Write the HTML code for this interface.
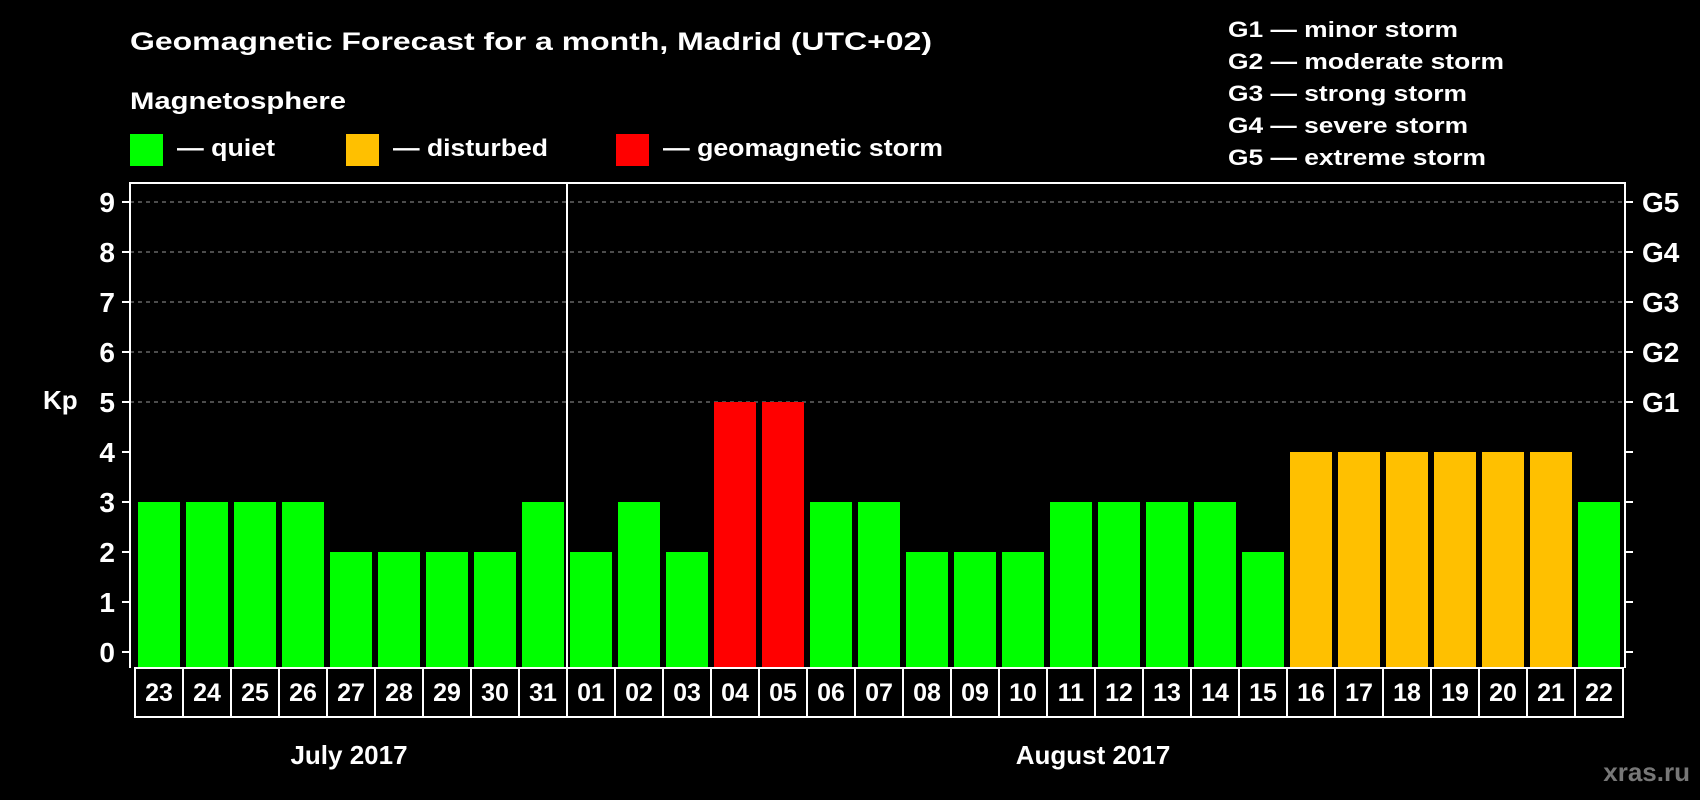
<!DOCTYPE html>
<html><head><meta charset="utf-8"><style>
html,body{margin:0;padding:0;background:#000;}
svg{display:block;font-family:"Liberation Sans",Arial,sans-serif;font-weight:bold;}
</style></head><body>
<svg id="chart" width="1700" height="800" viewBox="0 0 1700 800">
<rect width="1700" height="800" fill="#000"/>
<text x="130" y="50" fill="#fff" font-size="25" textLength="802" lengthAdjust="spacingAndGlyphs">Geomagnetic Forecast for a month, Madrid (UTC+02)</text>
<text x="130" y="109" fill="#fff" font-size="24" textLength="216" lengthAdjust="spacingAndGlyphs">Magnetosphere</text>
<g><rect x="130" y="134" width="33" height="32" fill="#00ff00"/><text x="177" y="156" fill="#fff" font-size="24" textLength="98" lengthAdjust="spacingAndGlyphs">— quiet</text></g>
<g><rect x="346" y="134" width="33" height="32" fill="#ffc000"/><text x="393" y="156" fill="#fff" font-size="24" textLength="155" lengthAdjust="spacingAndGlyphs">— disturbed</text></g>
<g><rect x="616" y="134" width="33" height="32" fill="#ff0000"/><text x="663" y="156" fill="#fff" font-size="24" textLength="280" lengthAdjust="spacingAndGlyphs">— geomagnetic storm</text></g>
<g fill="#fff" font-size="22">
<text x="1228" y="37" textLength="230" lengthAdjust="spacingAndGlyphs">G1 — minor storm</text>
<text x="1228" y="69" textLength="276" lengthAdjust="spacingAndGlyphs">G2 — moderate storm</text>
<text x="1228" y="101" textLength="239" lengthAdjust="spacingAndGlyphs">G3 — strong storm</text>
<text x="1228" y="133" textLength="240" lengthAdjust="spacingAndGlyphs">G4 — severe storm</text>
<text x="1228" y="165" textLength="258" lengthAdjust="spacingAndGlyphs">G5 — extreme storm</text>
</g>
<g id="grid"></g>
<g id="bars"></g>
<g id="axes"></g>
<text x="43" y="409" fill="#fff" font-size="26">Kp</text>
<text x="349" y="764" fill="#fff" font-size="26" text-anchor="middle">July 2017</text>
<text x="1093" y="764" fill="#fff" font-size="26" text-anchor="middle">August 2017</text>
<text x="1690" y="781" fill="#777" font-size="26" text-anchor="end">xras.ru</text>
</svg>
<script>
const days = ["23","24","25","26","27","28","29","30","31","01","02","03","04","05","06","07","08","09","10","11","12","13","14","15","16","17","18","19","20","21","22"];
const kpValues = [3,3,3,3,2,2,2,2,3,2,3,2,5,5,3,3,2,2,2,3,3,3,3,2,4,4,4,4,4,4,3];
const yTicks = [0,1,2,3,4,5,6,7,8,9];
const gLabels = ["G1","G2","G3","G4","G5"];
const gLevels = [5,6,7,8,9];

const NS="http://www.w3.org/2000/svg";
const plotLeft=130,plotRight=1625,plotTop=183,plotBottom=668,y0=652,unit=50,boxLeft=135,pitch=48,boxBottom=717;
const yScale=v=>y0-v*unit;
const xBox=i=>boxLeft+i*pitch;
function mk(tag,attrs,parent){const e=document.createElementNS(NS,tag);for(const k in attrs)e.setAttribute(k,attrs[k]);parent.appendChild(e);return e;}
function colorFor(v){return v>=5?"#ff0000":(v>=4?"#ffc000":"#00ff00");}
const gridG=document.getElementById('grid'),barsG=document.getElementById('bars'),axesG=document.getElementById('axes');
gLevels.forEach((lv,i)=>{
  const l=mk('line',{x1:plotLeft,x2:plotRight,y1:yScale(lv),y2:yScale(lv),stroke:'#999','stroke-width':1,'stroke-dasharray':'4,4'},gridG);
  
  
  const t=mk('text',{x:1642,y:yScale(lv)+10,fill:'#fff','font-size':28},axesG);
  t.textContent=gLabels[i];
  
  
});
kpValues.forEach((v,i)=>{
  const r=mk('rect',{x:xBox(i)+3,y:yScale(v),width:42,height:plotBottom-yScale(v),fill:colorFor(v)},barsG);
  
  
});
const fr=mk('path',{d:`M${plotLeft},${plotBottom} V${plotTop} H${plotRight} V${plotBottom}`,fill:'none',stroke:'#fff','stroke-width':2},axesG);


const sep=mk('line',{x1:xBox(9),x2:xBox(9),y1:plotTop,y2:plotBottom,stroke:'#fff','stroke-width':2},axesG);


yTicks.forEach(v=>{
  mk('line',{x1:122,x2:plotLeft,y1:yScale(v),y2:yScale(v),stroke:'#fff','stroke-width':2},axesG);
  mk('line',{x1:plotRight,x2:plotRight+8,y1:yScale(v),y2:yScale(v),stroke:'#fff','stroke-width':2},axesG);
  const t=mk('text',{x:115,y:yScale(v)+10,fill:'#fff','font-size':28,'text-anchor':'end'},axesG);
  t.textContent=v;
  
  
});
days.forEach((d,i)=>{
  const b=mk('rect',{x:xBox(i),y:plotBottom,width:pitch,height:boxBottom-plotBottom,fill:'none',stroke:'#fff','stroke-width':2},axesG);
  
  
  const t=mk('text',{x:xBox(i)+pitch/2,y:701,fill:'#fff','font-size':25,'text-anchor':'middle'},axesG);
  t.textContent=d;
  
  
});
</script>
</body></html>
